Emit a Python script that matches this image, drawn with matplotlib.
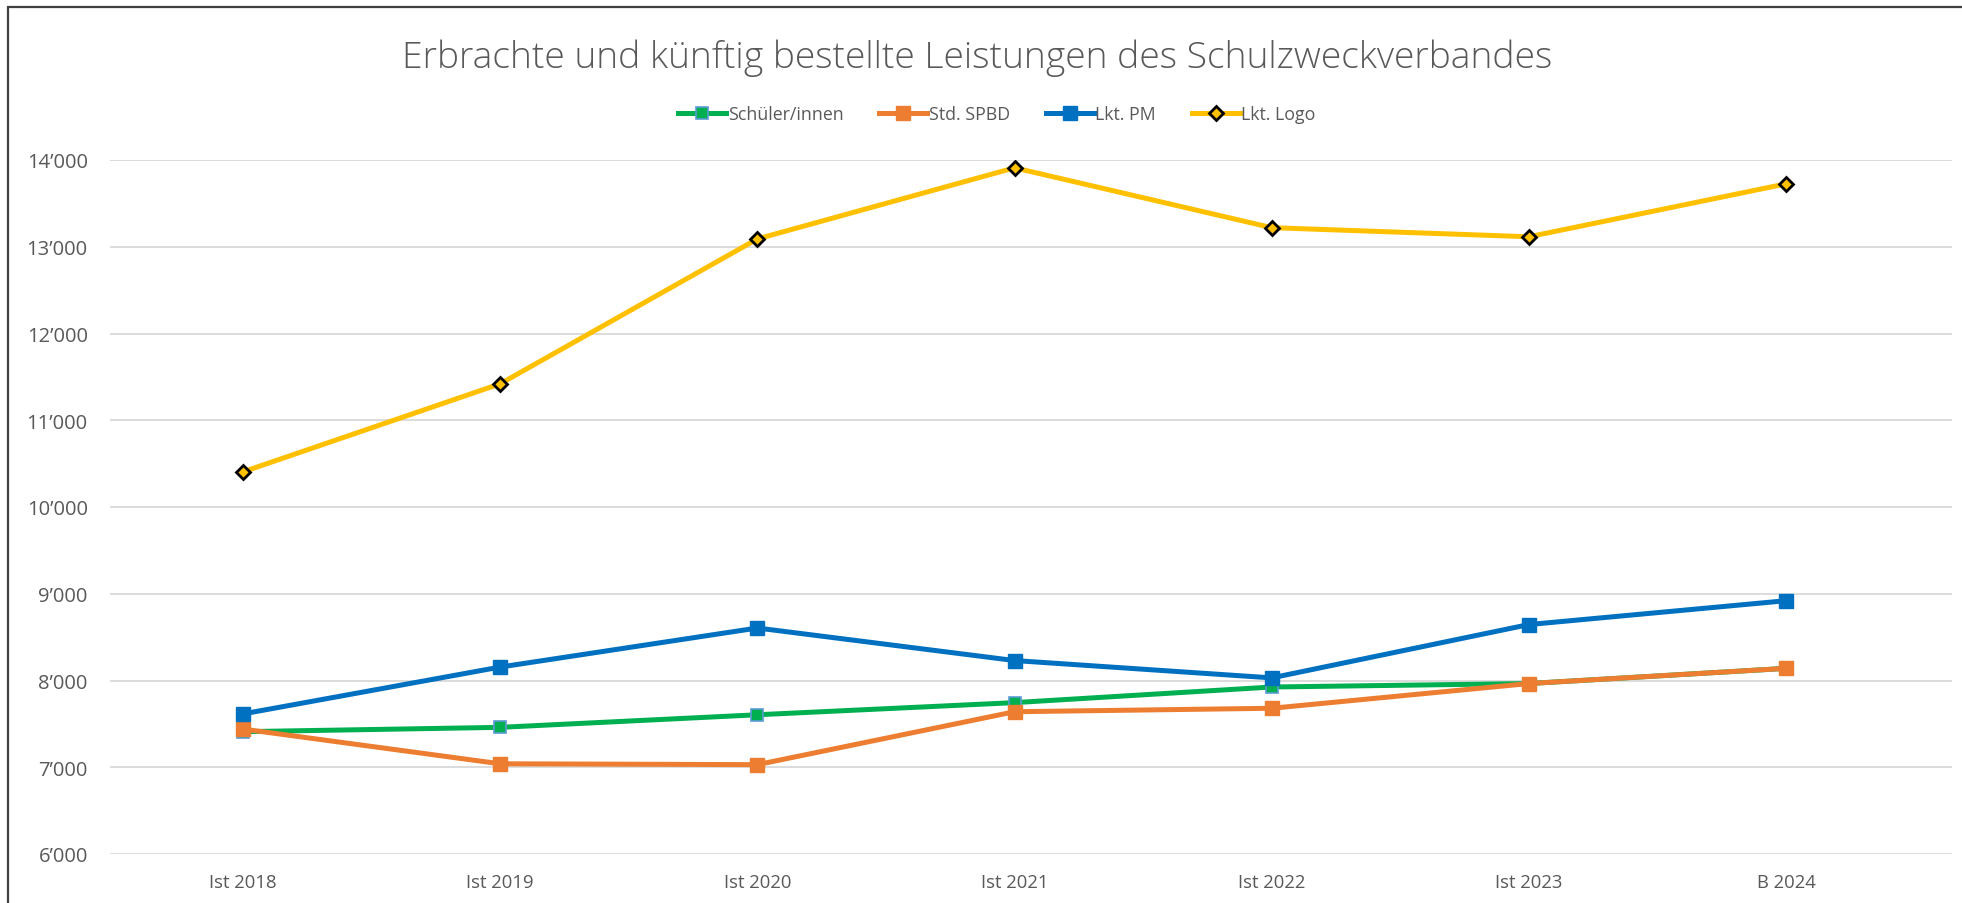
import matplotlib

matplotlib.use("Agg")
import matplotlib.pyplot as plt
from matplotlib.patches import Rectangle
from matplotlib.ticker import FuncFormatter, MultipleLocator

# values
YEARS = ["Ist 2018", "Ist 2019", "Ist 2020", "Ist 2021", "Ist 2022", "Ist 2023", "B 2024"]
SCHUELER = [7410, 7460, 7605, 7745, 7925, 7965, 8140]
SPBD = [7440, 7040, 7030, 7640, 7680, 7965, 8140]
PM = [7615, 8155, 8605, 8230, 8030, 8645, 8920]
LOGO = [10405, 11420, 13090, 13910, 13220, 13115, 13725]

TITLE = "Erbrachte und künftig bestellte Leistungen des Schulzweckverbandes"
GREY = "#595959"

W, H = 1962, 904
fig = plt.figure(figsize=(W / 100, H / 100), dpi=100)
# axes box in pixels: x 110..1952, y 161..855 (from top)
ax = fig.add_axes([110 / W, (H - 855) / H, (1952 - 110) / W, (855 - 161) / H])

x = list(range(len(YEARS)))
lw = 3.6
ax.plot(x, SCHUELER, color="#00B050", lw=lw, marker="s", ms=9,
        mfc="#00B050", mec="#5B9BD5", mew=1.2, label="Schüler/innen")
ax.plot(x, SPBD, color="#ED7D31", lw=lw, marker="s", ms=10,
        mfc="#ED7D31", mec="#ED7D31", label="Std. SPBD")
ax.plot(x, PM, color="#0070C0", lw=lw, marker="s", ms=10,
        mfc="#0070C0", mec="#0070C0", label="Lkt. PM")
ax.plot(x, LOGO, color="#FFC000", lw=lw, marker="D", ms=7.5,
        mfc="#FFC000", mec="black", mew=2.0, label="Lkt. Logo")

ax.set_xlim(-0.517, 6.645)
ax.set_ylim(6000, 14000)
ax.yaxis.set_major_locator(MultipleLocator(1000))
ax.yaxis.set_major_formatter(FuncFormatter(lambda v, _: f"{int(v):,}".replace(",", "\u2019")))
ax.set_xticks(x)
ax.set_xticklabels(YEARS)
ax.grid(axis="y", color="#D9D9D9", lw=1.3)
ax.set_axisbelow(True)
for s in ax.spines.values():
    s.set_visible(False)
ax.tick_params(axis="both", length=0, colors=GREY)
ax.tick_params(axis="y", pad=16, labelsize=14.5)
ax.tick_params(axis="x", pad=14, labelsize=13.3)
for lab in ax.get_xticklabels() + ax.get_yticklabels():
    lab.set_family("Open Sans")

fig.text(977 / W, 1 - 58 / H, TITLE, ha="center", va="center",
         fontsize=26.8, color=GREY, family="Open Sans", fontweight="light")
fig.legend(loc="center", bbox_to_anchor=(997 / W, 1 - 115 / H), ncol=4, frameon=False,
           handlelength=2.7, handletextpad=0.1, columnspacing=2.0,
           labelcolor=GREY, prop={"family": "Open Sans", "size": 12.8})

# outer chart frame, cut off at right and bottom in the reference
fig.patches.append(Rectangle((8 / W, -0.1), 1.2, 1 - 8 / H + 0.1, transform=fig.transFigure,
                             fill=False, ec="#404040", lw=1.6))

fig.savefig("out.png", dpi=100)
